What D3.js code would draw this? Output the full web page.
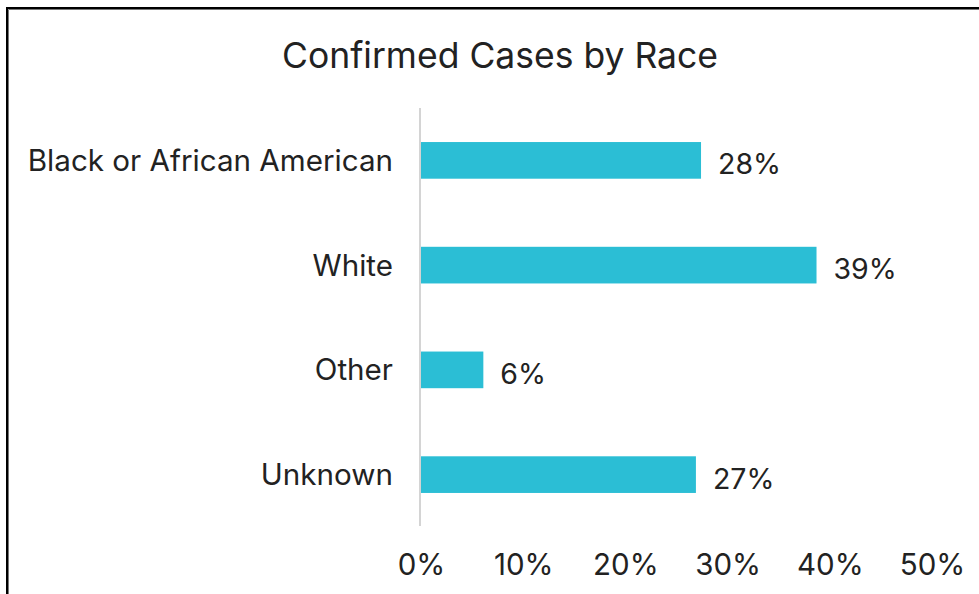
<!DOCTYPE html>
<html><head><meta charset="utf-8">
<script src="https://cdn.jsdelivr.net/npm/d3@7"></script>
<style>
html,body{margin:0;padding:0;background:#fff;}
svg{display:block;}
text{font-family:Inter, "Noto Sans", sans-serif;fill:#222;}
</style></head>
<body>
<svg id="chart" width="979" height="594"></svg>
<script>
const title = "Confirmed Cases by Race";
const categories = ["Black or African American", "White", "Other", "Unknown"];
const values = [27.4, 38.7, 6.1, 26.9];
const valueLabels = ["28%", "39%", "6%", "27%"];
const tickValues = [0, 10, 20, 30, 40, 50];
const tickLabels = ["0%", "10%", "20%", "30%", "40%", "50%"];

const svg = d3.select("#chart");
const W = 979, H = 594;

// frame
svg.append("rect").attr("x", 7).attr("y", 8).attr("width", W + 20).attr("height", H + 20)
  .attr("fill", "none").attr("stroke", "#000").attr("stroke-width", 2);
svg.append("path").attr("d", `M8.5,${H} V9.5 H${W}`)
  .attr("fill", "none").attr("stroke", "#777").attr("stroke-width", 1);

const x = d3.scaleLinear().domain([0, 50]).range([421, 932]);
const y = d3.scaleBand().domain(categories).range([108, 527]).paddingInner(0.65).paddingOuter(0.325);

svg.append("text").attr("x", 500).attr("y", 68).attr("text-anchor", "middle")
  .attr("font-size", 35.5).text(title);

// bars
svg.selectAll("rect.bar").data(categories).join("rect").attr("class", "bar")
  .attr("x", x(0)).attr("y", d => y(d))
  .attr("width", (d, i) => x(values[i]) - x(0)).attr("height", y.bandwidth())
  .attr("fill", "#2BBED5");

// axis line
svg.append("line").attr("x1", 420).attr("x2", 420).attr("y1", 108).attr("y2", 526)
  .attr("stroke", "#d4d4d4").attr("stroke-width", 2);

// category labels
svg.selectAll("text.cat").data(categories).join("text").attr("class", "cat")
  .attr("x", 393).attr("y", d => y(d) + y.bandwidth() / 2 + 10.5)
  .attr("text-anchor", "end").attr("font-size", 29.6).text(d => d);

// value labels
svg.selectAll("text.val").data(categories).join("text").attr("class", "val")
  .attr("x", (d, i) => x(values[i]) + 17).attr("y", d => y(d) + y.bandwidth() / 2 + 14)
  .attr("font-size", 28.5).text((d, i) => valueLabels[i]);

// x axis ticks
const axis = d3.axisBottom(x).tickValues(tickValues).tickSize(0)
  .tickFormat((d, i) => tickLabels[i]);
const g = svg.append("g").attr("transform", "translate(0,552)").call(axis);
g.select(".domain").remove();
g.selectAll("text").attr("font-size", 29.5).attr("font-family", "Inter, 'Noto Sans', sans-serif")
  .attr("fill", "#222").attr("dy", 0).attr("y", 23);
</script>
</body></html>
